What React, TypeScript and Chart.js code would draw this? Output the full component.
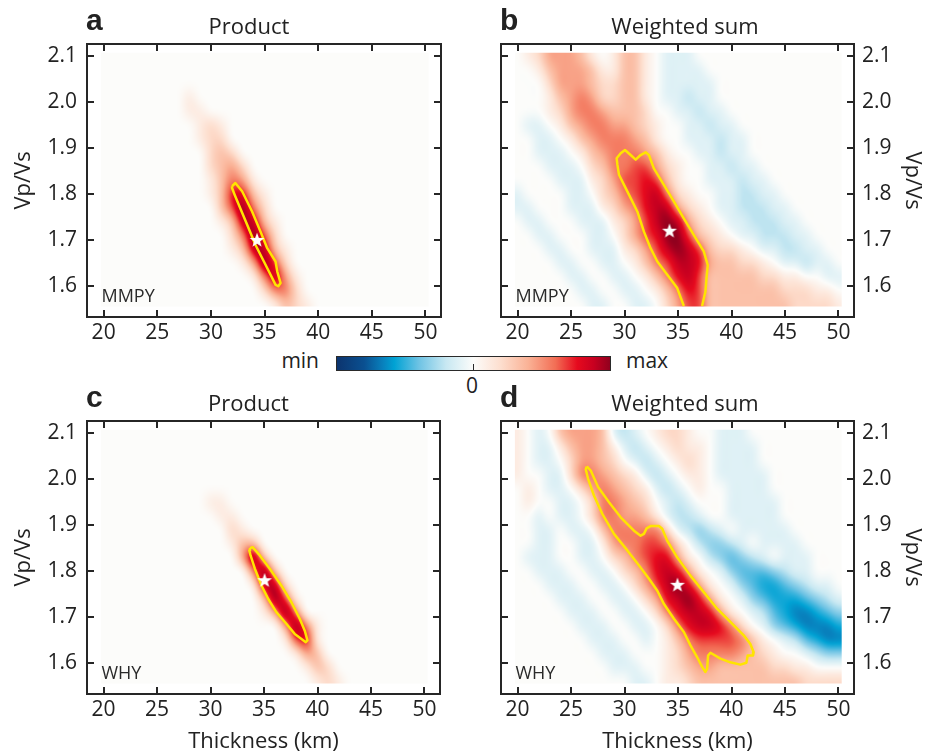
import React, { useEffect, useRef } from "react";
import { Chart, registerables } from "chart.js";

Chart.register(...registerables);

// ---------------- data ----------------
const THICKNESS_GRID = [20, 21, 22, 23, 24, 25, 26, 27, 28, 29, 30, 31, 32, 33, 34, 35, 36, 37, 38, 39, 40, 41, 42, 43, 44, 45, 46, 47, 48, 49, 50];
const VPVS_GRID = [2.1, 2.07, 2.04, 2.01, 1.98, 1.95, 1.92, 1.89, 1.86, 1.83, 1.8, 1.77, 1.74, 1.71, 1.68, 1.65, 1.62, 1.59, 1.56];
const X_TICKS = [20, 25, 30, 35, 40, 45, 50];
const Y_TICKS = [1.6, 1.7, 1.8, 1.9, 2.0, 2.1];
const X_LIMITS = [18.45, 51.45];
const Y_LIMITS = [1.532, 2.127];

// level code per grid cell: '0'..'9' = 0..max, 'a'..'i' = -1/9..min  (rows: top = 2.10)
const MMPY_PRODUCT = [
  "00000 00000 00000 00000 00000 00000 0",
  "00000 00000 00000 00000 00000 00000 0",
  "00000 00000 00000 00000 00000 00000 0",
  "00000 00010 00000 00000 00000 00000 0",
  "00000 00011 00000 00000 00000 00000 0",
  "00000 00001 21000 00000 00000 00000 0",
  "00000 00001 22000 00000 00000 00000 0",
  "00000 00000 23200 00000 00000 00000 0",
  "00000 00000 23420 00000 00000 00000 0",
  "00000 00000 13541 00000 00000 00000 0",
  "00000 00000 13773 10000 00000 00000 0",
  "00000 00000 03695 20000 00000 00000 0",
  "00000 00000 01388 31000 00000 00000 0",
  "00000 00000 00259 62000 00000 00000 0",
  "00000 00000 00138 83100 00000 00000 0",
  "00000 00000 00014 96200 00000 00000 0",
  "00000 00000 00001 58410 00000 00000 0",
  "00000 00000 00000 25520 00000 00000 0",
  "00000 00000 00000 01321 00000 00000 0",
];

const MMPY_WEIGHTED = [
  "01244 43101 3310a aa000 00000 00000 0",
  "00134 44311 3310a aaa00 00000 00000 0",
  "00024 44322 3310a aaaa0 00000 00000 0",
  "00013 45422 3310a abaa0 00000 00000 0",
  "00012 45543 33200 aabaa 00000 00000 0",
  "0aa01 34554 43210 0aaba a0000 00000 0",
  "00aa0 13455 54310 0aaab aa000 00000 0",
  "00aaa 01345 55431 00aab aa000 00000 0",
  "000aa a0235 56642 100aa baa00 00000 0",
  "0000a aa124 66763 100aa abaa0 00000 0",
  "a0000 aa023 56785 2100a abbaa 00000 0",
  "aa000 aaa12 45788 4210a abbba a0000 0",
  "0aa00 0aaa1 24689 84210 aabbb aa000 0",
  "00aa0 00aa0 24679 96321 0aabb baa00 0",
  "000aa 00aaa 12468 98632 210aa bbaa0 0",
  "0000a a00aa 01356 88743 32210 aabaa 0",
  "00000 aa00a a0135 78633 33322 1100a a",
  "00000 0aa00 aa013 57633 33333 22211 0",
  "00000 00aa0 0aa02 46633 33333 32222 1",
];

const WHY_PRODUCT = [
  "00000 00000 00000 00000 00000 00000 0",
  "00000 00000 00000 00000 00000 00000 0",
  "00000 00000 00000 00000 00000 00000 0",
  "00000 00000 00000 00000 00000 00000 0",
  "00000 00000 00000 00000 00000 00000 0",
  "00000 00000 11000 00000 00000 00000 0",
  "00000 00000 01100 00000 00000 00000 0",
  "00000 00000 00210 00000 00000 00000 0",
  "00000 00000 00133 00000 00000 00000 0",
  "00000 00000 00049 30000 00000 00000 0",
  "00000 00000 00005 93000 00000 00000 0",
  "00000 00000 00001 88200 00000 00000 0",
  "00000 00000 00000 39610 00000 00000 0",
  "00000 00000 00000 14950 00000 00000 0",
  "00000 00000 00000 00495 10000 00000 0",
  "00000 00000 00000 00167 10000 00000 0",
  "00000 00000 00000 00014 30000 00000 0",
  "00000 00000 00000 00001 32000 00000 0",
  "00000 00000 00000 00000 12100 00000 0",
];

const WHY_WEIGHTED = [
  "10a03 4443a ba012 2100a aa000 00000 0",
  "10aa1 34431 aba01 2110a aaa00 00000 0",
  "10aa0 24432 0aba0 1210a aaa00 00000 0",
  "100aa 25543 21aba 0110a aaaa0 00000 0",
  "010aa 02454 321ab a0100 aaaa0 00000 0",
  "0100a a0255 4320a ba000 aaaaa 00000 0",
  "00a0a a0255 4431a bba00 aaaaa 00000 0",
  "00aa0 aa035 55552 abcba 0aaaa a0000 0",
  "00aa0 0aa14 55665 20bcc ba0aa aa000 0",
  "0aaa0 0aa02 35677 410bc dcba0 aaa00 0",
  "00aaa 00aa0 23578 7410a cdddc baa00 0",
  "000aa a00aa 02468 97410 acdee dcbaa 0",
  "0000a aa00a a0247 89741 0acde eedcb a",
  "00000 aaa00 aa025 78874 10abd effed c",
  "00000 0aaa0 0aa02 57887 520ac defff e",
  "00000 00aaa 00a01 35666 65310 abdef f",
  "00000 000aa a0001 24555 54321 00abc c",
  "00000 0000a aa001 23443 33332 21100 0",
  "00000 00000 0aa01 12333 33333 33222 2",
];

// yellow contour lines [thickness, Vp/Vs]
const MMPY_PRODUCT_CONTOUR = [
  [31.97, 1.817], [32.28, 1.824], [32.91, 1.806], [33.84, 1.762], [34.63, 1.718], [35.25, 1.682],
  [36.03, 1.653], [36.19, 1.631], [36.5, 1.606], [36.28, 1.599], [36.03, 1.602], [35.56, 1.624],
  [34.94, 1.653], [34.16, 1.689], [33.38, 1.733], [32.59, 1.777], [32.22, 1.798], [31.97, 1.813],
];
const MMPY_WEIGHTED_CONTOUR = [
  [35.54, 1.556], [34.92, 1.595], [33.99, 1.624], [33.06, 1.653], [32.43, 1.682], [31.81, 1.718],
  [31.19, 1.762], [30.57, 1.791], [29.95, 1.82], [29.48, 1.842], [29.33, 1.864], [29.26, 1.878],
  [29.64, 1.889], [30.04, 1.896], [30.57, 1.885], [31.04, 1.875], [31.5, 1.885], [31.97, 1.891],
  [32.28, 1.885], [32.74, 1.856], [33.68, 1.82], [34.61, 1.784], [35.54, 1.747], [36.47, 1.711],
  [37.41, 1.675], [37.78, 1.645], [37.66, 1.616], [37.56, 1.587], [37.25, 1.556],
];
const WHY_PRODUCT_CONTOUR = [
  [33.68, 1.85], [33.93, 1.852], [34.61, 1.834], [35.54, 1.805], [36.63, 1.768], [37.56, 1.732],
  [38.34, 1.696], [38.81, 1.67], [39.06, 1.649], [38.9, 1.645], [38.5, 1.652], [37.87, 1.663],
  [36.94, 1.689], [36.16, 1.71], [35.39, 1.739], [34.77, 1.768], [34.14, 1.805], [33.74, 1.834],
  [33.62, 1.845],
];
const WHY_WEIGHTED_CONTOUR = [
  [26.47, 2.028], [26.84, 2.019], [27.52, 1.983], [28.55, 1.95], [29.64, 1.917], [30.88, 1.888],
  [31.5, 1.877], [31.81, 1.881], [32.06, 1.893], [32.43, 1.898], [33.21, 1.898], [33.52, 1.892],
  [33.99, 1.866], [34.92, 1.83], [36.16, 1.79], [37.41, 1.754], [38.65, 1.718], [39.89, 1.689],
  [41.14, 1.66], [41.76, 1.641], [42.07, 1.623], [42.01, 1.616], [41.51, 1.616], [41.39, 1.6],
  [40.83, 1.596], [39.89, 1.601], [38.96, 1.609], [38.03, 1.622], [37.81, 1.616], [37.72, 1.587],
  [37.56, 1.58], [37.25, 1.591], [36.79, 1.612], [36.16, 1.638], [35.54, 1.667], [34.61, 1.696],
  [33.68, 1.728], [33.06, 1.757], [32.28, 1.783], [31.35, 1.812], [30.26, 1.845], [29.01, 1.881],
  [27.93, 1.924], [27.15, 1.964], [26.59, 2.001], [26.37, 2.022],
];

// best-fit stars (a, b, c, d)
const BEST_THICKNESS = [34.3, 34.2, 35.05, 34.95];
const BEST_VPVS = [1.7, 1.72, 1.78, 1.77];

const PANEL_LETTERS = ["a", "b", "c", "d"];
const PANEL_TITLES = ["Product", "Weighted sum", "Product", "Weighted sum"];
const STATIONS = ["MMPY", "MMPY", "WHY", "WHY"];

// ---------------- style ----------------
const CMAP_POS = [0, 0.1, 0.17, 0.21, 0.3, 0.4, 0.5, 0.6, 0.7, 0.8, 0.88, 0.94, 1];
const CMAP_RGB = [
  [12, 52, 110], [10, 80, 145], [8, 130, 190], [0, 162, 212], [110, 195, 228], [200, 232, 242],
  [252, 252, 250], [253, 222, 206], [250, 178, 150], [242, 110, 85], [230, 10, 30], [200, 0, 32], [145, 0, 30],
];
const FONT = "'Open Sans', 'DejaVu Sans', sans-serif";
const TEXT = "#222";
const FRAME = "#262626";
const UPSAMPLE = 8;
const BLUR_X = 0.32; // in cells (image resampling softness)
const BLUR_Y = 0.4;

const LEVEL_CODES = "ihgfedcba0123456789";
function decode(ch: string) {
  const i = LEVEL_CODES.indexOf(ch);
  return i < 0 ? 0 : (i - 9) / 9;
}
function colorFor(v: number) {
  const p = Math.max(0, Math.min(1, (v + 1) / 2));
  let i = 0;
  while (i < CMAP_POS.length - 2 && p > CMAP_POS[i + 1]) i++;
  const t = (p - CMAP_POS[i]) / (CMAP_POS[i + 1] - CMAP_POS[i]);
  return CMAP_RGB[i].map((c, k) => Math.round(c + (CMAP_RGB[i + 1][k] - c) * t));
}
function cr(p0: number, p1: number, p2: number, p3: number, t: number) {
  return 0.5 * (2 * p1 + (-p0 + p2) * t + (2 * p0 - 5 * p1 + 4 * p2 - p3) * t * t + (-p0 + 3 * p1 - 3 * p2 + p3) * t * t * t);
}
function gaussKernel(sigma: number) {
  const rad = Math.max(1, Math.ceil(sigma * 3));
  const k: number[] = [];
  let s = 0;
  for (let i = -rad; i <= rad; i++) {
    const w = Math.exp(-(i * i) / (2 * sigma * sigma));
    k.push(w);
    s += w;
  }
  return { k: k.map((w) => w / s), rad };
}
// renders the value grid as an image (smooth resampling of the cells)
function buildImage(rows: string[]) {
  const cols = THICKNESS_GRID.length;
  const nr = VPVS_GRID.length;
  const vals: number[][] = [];
  let gmin = 0;
  let gmax = 0;
  for (let r = 0; r < nr; r++) {
    const row = (rows[r] || "").replace(/ /g, "");
    const line: number[] = [];
    for (let k = 0; k < cols; k++) {
      const v = decode(row[k] || "0");
      gmin = Math.min(gmin, v);
      gmax = Math.max(gmax, v);
      line.push(v);
    }
    vals.push(line);
  }
  const at = (r: number, k: number) => vals[Math.max(0, Math.min(nr - 1, r))][Math.max(0, Math.min(cols - 1, k))];
  const W = cols * UPSAMPLE;
  const H = nr * UPSAMPLE;
  const buf = new Float32Array(W * H);
  for (let v = 0; v < H; v++) {
    const gy = (v + 0.5) / UPSAMPLE - 0.5;
    const r1 = Math.floor(gy);
    const ty = gy - r1;
    for (let u = 0; u < W; u++) {
      const gx = (u + 0.5) / UPSAMPLE - 0.5;
      const k1 = Math.floor(gx);
      const tx = gx - k1;
      const colv: number[] = [];
      for (let dr = -1; dr <= 2; dr++) {
        colv.push(cr(at(r1 + dr, k1 - 1), at(r1 + dr, k1), at(r1 + dr, k1 + 1), at(r1 + dr, k1 + 2), tx));
      }
      buf[v * W + u] = cr(colv[0], colv[1], colv[2], colv[3], ty);
    }
  }
  const kx = gaussKernel(BLUR_X * UPSAMPLE);
  const ky = gaussKernel(BLUR_Y * UPSAMPLE);
  const tmp = new Float32Array(W * H);
  for (let v = 0; v < H; v++) {
    for (let u = 0; u < W; u++) {
      let s = 0;
      for (let i = -kx.rad; i <= kx.rad; i++) {
        const uu = Math.max(0, Math.min(W - 1, u + i));
        s += buf[v * W + uu] * kx.k[i + kx.rad];
      }
      tmp[v * W + u] = s;
    }
  }
  const out = new Float32Array(W * H);
  for (let v = 0; v < H; v++) {
    for (let u = 0; u < W; u++) {
      let s = 0;
      for (let i = -ky.rad; i <= ky.rad; i++) {
        const vv = Math.max(0, Math.min(H - 1, v + i));
        s += tmp[vv * W + u] * ky.k[i + ky.rad];
      }
      out[v * W + u] = s;
    }
  }
  const c = document.createElement("canvas");
  c.width = W;
  c.height = H;
  const g = c.getContext("2d")!;
  const img = g.createImageData(W, H);
  for (let i = 0; i < W * H; i++) {
    const val = Math.max(gmin, Math.min(gmax, out[i]));
    const [R, G, B] = colorFor(val);
    img.data[i * 4] = R;
    img.data[i * 4 + 1] = G;
    img.data[i * 4 + 2] = B;
    img.data[i * 4 + 3] = 255;
  }
  g.putImageData(img, 0, 0);
  return c;
}
function makeStar() {
  const s = 18;
  const c = document.createElement("canvas");
  c.width = s;
  c.height = s;
  const g = c.getContext("2d")!;
  g.fillStyle = "#ffffff";
  g.beginPath();
  for (let i = 0; i < 10; i++) {
    const r = i % 2 === 0 ? 7.8 : 3.2;
    const a = -Math.PI / 2 + (i * Math.PI) / 5;
    const x = s / 2 + r * Math.cos(a);
    const y = s / 2 + 0.5 + r * Math.sin(a);
    if (i === 0) g.moveTo(x, y);
    else g.lineTo(x, y);
  }
  g.closePath();
  g.fill();
  return c;
}

const PANELS = [
  { grid: MMPY_PRODUCT, contour: MMPY_PRODUCT_CONTOUR, closed: true },
  { grid: MMPY_WEIGHTED, contour: MMPY_WEIGHTED_CONTOUR, closed: false },
  { grid: WHY_PRODUCT, contour: WHY_PRODUCT_CONTOUR, closed: true },
  { grid: WHY_WEIGHTED, contour: WHY_WEIGHTED_CONTOUR, closed: true },
];

const LAYOUTS = [
  { left: 0, top: 0, w: 470, h: 345, pad: { top: 44, left: 0, right: 29, bottom: 0 }, side: "left", xH: 28, xTitle: false, titleDx: -15 },
  { left: 470, top: 0, w: 465, h: 345, pad: { top: 44, left: 31, right: 0, bottom: 0 }, side: "right", xH: 28, xTitle: false, titleDx: 7.5 },
  { left: 0, top: 345, w: 470, h: 410, pad: { top: 76, left: 0, right: 30, bottom: 0 }, side: "left", xH: 61, xTitle: true, titleDx: -15 },
  { left: 470, top: 345, w: 465, h: 410, pad: { top: 76, left: 31, right: 0, bottom: 0 }, side: "right", xH: 61, xTitle: true, titleDx: 7.5 },
];

function createPanel(canvas: HTMLCanvasElement, idx: number) {
  const p = PANELS[idx];
  const lay = LAYOUTS[idx];
  const right = lay.side === "right";
  const heat = buildImage(p.grid);
  const star = makeStar();
  const contourPts = p.contour.map(([x, y]) => ({ x, y }));
  if (p.closed) contourPts.push({ ...contourPts[0] });

  const plugin = {
    id: "panel" + idx,
    beforeDatasetsDraw(chart: any) {
      const { ctx, scales } = chart;
      const xs = scales.x;
      const ys = scales.y;
      const hx = (THICKNESS_GRID[1] - THICKNESS_GRID[0]) / 2;
      const hy = (VPVS_GRID[0] - VPVS_GRID[1]) / 2;
      const x0 = xs.getPixelForValue(THICKNESS_GRID[0] - hx);
      const x1 = xs.getPixelForValue(THICKNESS_GRID[THICKNESS_GRID.length - 1] + hx);
      const y0 = ys.getPixelForValue(VPVS_GRID[0] + hy);
      const y1 = ys.getPixelForValue(VPVS_GRID[VPVS_GRID.length - 1] - hy);
      const cx0 = xs.getPixelForValue(19.75);
      const cx1 = xs.getPixelForValue(50.3);
      const cy0 = ys.getPixelForValue(2.108);
      const cy1 = ys.getPixelForValue(1.555);
      ctx.save();
      ctx.beginPath();
      ctx.rect(cx0, cy0, cx1 - cx0, cy1 - cy0);
      ctx.clip();
      ctx.imageSmoothingEnabled = true;
      ctx.imageSmoothingQuality = "high";
      ctx.drawImage(heat, x0, y0, x1 - x0, y1 - y0);
      ctx.restore();
    },
    afterDraw(chart: any) {
      const { ctx, chartArea, scales } = chart;
      const { left, right: r, top, bottom } = chartArea;
      const xs = scales.x;
      const ys = scales.y;
      ctx.save();
      ctx.strokeStyle = FRAME;
      ctx.lineWidth = 2;
      ctx.strokeRect(left, top, r - left, bottom - top);
      const TL = 7;
      ctx.beginPath();
      X_TICKS.forEach((v) => {
        const px = Math.round(xs.getPixelForValue(v));
        ctx.moveTo(px, bottom);
        ctx.lineTo(px, bottom - TL);
        ctx.moveTo(px, top);
        ctx.lineTo(px, top + TL);
      });
      Y_TICKS.forEach((v) => {
        const py = Math.round(ys.getPixelForValue(v));
        ctx.moveTo(left, py);
        ctx.lineTo(left + TL, py);
        ctx.moveTo(r, py);
        ctx.lineTo(r - TL, py);
      });
      ctx.stroke();

      ctx.fillStyle = TEXT;
      ctx.textBaseline = "alphabetic";
      ctx.textAlign = "left";
      ctx.font = "bold 30px 'Liberation Sans', Arial, sans-serif";
      ctx.fillText(PANEL_LETTERS[idx], left - 1, top - 14);
      ctx.textAlign = "center";
      ctx.font = "22px " + FONT;
      ctx.fillText(PANEL_TITLES[idx], (left + r) / 2 + lay.titleDx, top - 10);
      ctx.textAlign = "left";
      ctx.font = "18px " + FONT;
      ctx.fillStyle = "#2a2a2a";
      ctx.fillText(STATIONS[idx], xs.getPixelForValue(19.8), ys.getPixelForValue(1.565));
      ctx.restore();
    },
  };

  return new Chart(canvas, {
    type: "scatter",
    data: {
      datasets: [
        {
          data: [{ x: BEST_THICKNESS[idx], y: BEST_VPVS[idx] }],
          pointStyle: star as any,
          pointRadius: 8,
          showLine: false,
        },
        {
          data: contourPts,
          showLine: true,
          borderColor: "#ffe400",
          borderWidth: 2.5,
          borderJoinStyle: "round",
          pointRadius: 0,
          fill: false,
          tension: 0,
        } as any,
      ],
    },
    options: {
      responsive: false,
      animation: false,
      events: [],
      layout: { padding: lay.pad },
      plugins: { legend: { display: false }, tooltip: { enabled: false }, title: { display: false } },
      scales: {
        x: {
          type: "linear",
          min: X_LIMITS[0],
          max: X_LIMITS[1],
          grid: { display: false, drawTicks: false },
          border: { display: false },
          afterBuildTicks: (s: any) => {
            s.ticks = X_TICKS.map((v) => ({ value: v }));
          },
          afterFit: (s: any) => {
            s.height = lay.xH;
          },
          ticks: {
            autoSkip: false,
            maxRotation: 0,
            minRotation: 0,
            includeBounds: false,
            padding: 3,
            color: TEXT,
            font: { family: FONT, size: 21 },
            callback: (v: any) => String(v),
          },
          title: {
            display: lay.xTitle,
            text: "Thickness (km)",
            color: TEXT,
            font: { family: FONT, size: 22 },
            padding: { top: 0, bottom: 0 },
          },
        },
        y: {
          type: "linear",
          position: right ? "right" : "left",
          min: Y_LIMITS[0],
          max: Y_LIMITS[1],
          grid: { display: false, drawTicks: false },
          border: { display: false },
          afterBuildTicks: (s: any) => {
            s.ticks = Y_TICKS.map((v) => ({ value: v }));
          },
          afterFit: (s: any) => {
            s.width = right ? 81 : 87;
          },
          ticks: {
            autoSkip: false,
            includeBounds: false,
            padding: right ? 8 : 10,
            color: TEXT,
            font: { family: FONT, size: 21 },
            callback: (v: any) => Number(v).toFixed(1),
          },
          title: {
            display: true,
            text: "Vp/Vs",
            color: TEXT,
            font: { family: FONT, size: 22 },
            padding: right ? { top: 10, bottom: 0 } : { top: 11, bottom: 0 },
          },
        },
      },
    } as any,
    plugins: [plugin],
  });
}

function gradientCss() {
  const parts = CMAP_POS.map((p, i) => `rgb(${CMAP_RGB[i].join(",")}) ${(p * 100).toFixed(1)}%`);
  return `linear-gradient(to right, ${parts.join(", ")})`;
}

export default function App() {
  const r0 = useRef<HTMLCanvasElement>(null);
  const r1 = useRef<HTMLCanvasElement>(null);
  const r2 = useRef<HTMLCanvasElement>(null);
  const r3 = useRef<HTMLCanvasElement>(null);
  const refs = [r0, r1, r2, r3];

  useEffect(() => {
    Chart.defaults.font.family = FONT;
    Chart.defaults.color = TEXT;
    const charts = refs.map((r, i) => createPanel(r.current as HTMLCanvasElement, i));
    return () => charts.forEach((c) => c.destroy());
  }, []);

  const labelStyle: React.CSSProperties = {
    position: "absolute",
    fontFamily: FONT,
    fontSize: 21,
    lineHeight: "20px",
    color: TEXT,
    whiteSpace: "nowrap",
  };

  return (
    <div style={{ position: "absolute", left: 0, top: 0, width: 935, height: 755, background: "#fff", overflow: "hidden" }}>
      <div
        style={{
          position: "absolute",
          left: 336,
          top: 356,
          width: 275,
          height: 15,
          boxSizing: "border-box",
          border: "1.5px solid #2a2a2a",
          background: gradientCss(),
        }}
      />
      <div style={{ position: "absolute", left: 472.5, top: 363.5, width: 1.6, height: 6, background: "#2a2a2a" }} />
      <div style={{ ...labelStyle, right: 935 - 319, top: 350, textAlign: "right" }}>min</div>
      <div style={{ ...labelStyle, left: 626, top: 350 }}>max</div>
      <div style={{ ...labelStyle, left: 466, top: 374.5 }}>0</div>
      {LAYOUTS.map((l, i) => (
        <canvas
          key={i}
          ref={refs[i]}
          width={l.w}
          height={l.h}
          style={{ position: "absolute", left: l.left, top: l.top, width: l.w, height: l.h }}
        />
      ))}
    </div>
  );
}
